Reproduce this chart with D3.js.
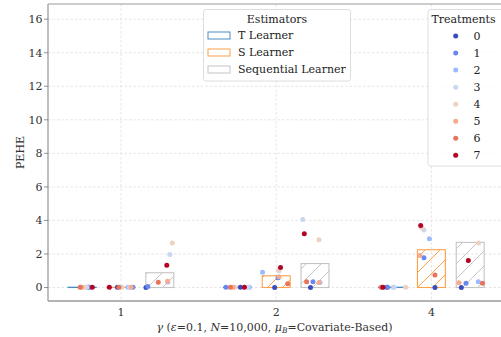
<!DOCTYPE html>
<html>
<head>
<meta charset="utf-8">
<script src="https://cdn.jsdelivr.net/npm/d3@7"></script>
<style>
  body { margin: 0; background: #fff; }
  svg { display: block; font-family: "DejaVu Serif", serif; }
</style>
</head>
<body>
<script>
// chart data
var gammas = ["1", "2", "4"];
var estimators = ["T Learner", "S Learner", "Sequential Learner"];
var treatments = ["0", "1", "2", "3", "4", "5", "6", "7"];
var yTicks = [0, 2, 4, 6, 8, 10, 12, 14, 16];

// PEHE per gamma, per treatment
var tValues = [
    [0.02, 0.01, 0.02, 0.01, 0.02, 0.02, 0.01, 0.02],
    [0.01, 0.02, 0.01, 0.02, 0.01, 0.02, 0.02, 0.01],
    [0.02, 0.01, 0.02, 0.02, 0.01, 0.02, 0.01, 0.02]
];
var sValues = [
    [0.01, 0.02, 0.01, 0.02, 0.02, 0.01, 0.02, 0.02],
    [0.00, 0.58, 0.91, 1.00, 1.04, 0.64, 0.23, 1.19],
    [0.00, 1.78, 2.91, 3.43, 3.55, 1.91, 0.74, 3.69]
];
var seqValues = [
    [0.00, 0.06, 0.33, 1.97, 2.65, 0.38, 0.32, 1.33],
    [0.00, 0.35, 0.30, 4.06, 2.85, 0.30, 0.35, 3.21],
    [0.00, 0.25, 0.35, 16.1, 2.66, 0.28, 0.26, 1.61]
];

// strip jitter (category units)
var tJitter = [
    [0.039, 0.045, 0.032, 0.029, 0.013, -0.003, -0.013, 0.065],
    [0.019, -0.074, 0.077, 0.068, -0.015, -0.028, -0.045, 0.045],
    [-0.036, -0.032, 0.006, 0.010, 0.084, -0.068, -0.074, -0.062]
];
var sJitter = [
    [-0.023, 0.077, 0.045, 0.055, 0.006, 0.065, -0.013, -0.075],
    [-0.010, 0.012, -0.088, 0.018, 0.016, 0.018, 0.074, 0.028],
    [0.023, -0.048, -0.013, -0.048, -0.061, -0.074, 0.023, -0.069]
];
var seqJitter = [
    [-0.089, -0.077, 0.052, 0.065, 0.081, 0.050, -0.010, 0.045],
    [-0.029, -0.013, 0.032, -0.079, 0.026, 0.026, -0.054, -0.069],
    [-0.057, -0.027, 0.052, 0.013, 0.054, -0.072, 0.079, -0.012]
];

var allValues = [tValues, sValues, seqValues];
var allJitter = [tJitter, sJitter, seqJitter];

var estColors = ["#4a8cc2", "#ffa04a", "#c4c4c4"];
var treatColors = ["#3b4cc0", "#6788ee", "#9abbff", "#c9d7f0", "#edd1c2", "#f7aa8c", "#e7745b", "#b40426"];

var W = 501, H = 337;
var mLeft = 48, mTop = 4, mBottom = 301;
var fs = 11;

var svg = d3.select("body").append("svg")
            .attr("width", W)
            .attr("height", H);

var x = d3.scaleLinear().domain([0, 2]).range([121, 431.4]);
var y = d3.scaleLinear().domain([-0.805, 16.905]).range([mBottom, mTop]);
var unit = x(1) - x(0);
var dodge = 0.25, barW = 0.18;

// hatch patterns
var defs = svg.append("defs");
estColors.forEach(function(c, i){
    var p = defs.append("pattern")
                .attr("id", "hatch" + i)
                .attr("patternUnits", "userSpaceOnUse")
                .attr("width", 15)
                .attr("height", 15);
    p.append("path")
     .attr("d", "M0,15 L15,0 M-3,3 L3,-3 M12,18 L18,12")
     .attr("stroke", c)
     .attr("stroke-width", 1);
});

// grid
var grid = svg.append("g").attr("class", "grid");
grid.selectAll("line.h")
    .data(yTicks).enter().append("line")
    .attr("x1", mLeft).attr("x2", W)
    .attr("y1", function(d){ return y(d); })
    .attr("y2", function(d){ return y(d); })
    .attr("stroke", "#dedede").attr("stroke-width", 0.8)
    .attr("stroke-dasharray", "2.5,2");
grid.selectAll("line.v")
    .data(gammas).enter().append("line")
    .attr("x1", function(d, i){ return x(i); })
    .attr("x2", function(d, i){ return x(i); })
    .attr("y1", mTop).attr("y2", mBottom)
    .attr("stroke", "#dedede").attr("stroke-width", 0.8)
    .attr("stroke-dasharray", "2.5,2");

// bars (means)
var bars = svg.append("g").attr("class", "bars");
estimators.forEach(function(est, e){
    gammas.forEach(function(g, gi){
        var m = d3.mean(allValues[e][gi]);
        var cx = x(gi + (e - 1) * dodge);
        bars.append("rect")
            .attr("x", cx - barW * unit / 2)
            .attr("y", y(m))
            .attr("width", barW * unit)
            .attr("height", y(0) - y(m))
            .attr("fill", "url(#hatch" + e + ")")
            .attr("stroke", estColors[e])
            .attr("stroke-width", 1.1);
    });
});

// strip points
var pts = [];
treatments.forEach(function(t, ti){
    estimators.forEach(function(est, e){
        gammas.forEach(function(g, gi){
            pts.push({
                t: ti,
                xv: gi + (e - 1) * dodge + allJitter[e][gi][ti],
                yv: allValues[e][gi][ti]
            });
        });
    });
});
svg.append("g").attr("class", "points")
    .selectAll("circle").data(pts).enter().append("circle")
    .attr("cx", function(d){ return x(d.xv); })
    .attr("cy", function(d){ return y(d.yv); })
    .attr("r", 2.5)
    .attr("fill", function(d){ return treatColors[d.t]; });

// spines
svg.append("line").attr("x1", mLeft).attr("x2", W).attr("y1", mTop).attr("y2", mTop)
   .attr("stroke", "#999").attr("stroke-width", 1);
svg.append("line").attr("x1", mLeft).attr("x2", W).attr("y1", mBottom).attr("y2", mBottom)
   .attr("stroke", "#666").attr("stroke-width", 1);
svg.append("line").attr("x1", mLeft).attr("x2", mLeft).attr("y1", mTop).attr("y2", mBottom)
   .attr("stroke", "#aaa").attr("stroke-width", 1.5);

// y axis ticks
var yAxis = svg.append("g").attr("class", "yaxis");
yAxis.selectAll("line").data(yTicks).enter().append("line")
     .attr("x1", mLeft - 4).attr("x2", mLeft)
     .attr("y1", function(d){ return y(d); })
     .attr("y2", function(d){ return y(d); })
     .attr("stroke", "#777").attr("stroke-width", 0.8);
yAxis.selectAll("text").data(yTicks).enter().append("text")
     .attr("x", mLeft - 5.5)
     .attr("y", function(d){ return y(d); })
     .attr("dy", "0.35em")
     .attr("text-anchor", "end")
     .attr("font-size", fs)
     .attr("fill", "#333")
     .text(function(d){ return d; });

// x tick labels
svg.append("g").selectAll("text").data(gammas).enter().append("text")
   .attr("x", function(d, i){ return x(i); })
   .attr("y", 315.5)
   .attr("text-anchor", "middle")
   .attr("font-size", fs)
   .attr("fill", "#333")
   .text(function(d){ return d; });

// axis labels
svg.append("text")
   .attr("transform", "translate(24," + ((mTop + mBottom) / 2) + ") rotate(-90)")
   .attr("text-anchor", "middle")
   .attr("font-size", fs)
   .attr("fill", "#333")
   .text("PEHE");

var xl = svg.append("text")
            .attr("x", 274.5)
            .attr("y", 331)
            .attr("text-anchor", "middle")
            .attr("font-size", fs)
            .attr("fill", "#333");
xl.append("tspan").attr("font-style", "italic").text("γ");
xl.append("tspan").text(" (");
xl.append("tspan").attr("font-style", "italic").text("ε");
xl.append("tspan").text("=0.1, ");
xl.append("tspan").attr("font-style", "italic").text("N");
xl.append("tspan").text("=10,000, ");
xl.append("tspan").attr("font-style", "italic").text("μ");
xl.append("tspan").attr("font-style", "italic").attr("font-size", 7.5).attr("dy", 2).text("B");
xl.append("tspan").attr("dy", -2).text("=Covariate-Based)");

// estimators legend
var leg1 = svg.append("g").attr("class", "legendEst");
leg1.append("rect")
    .attr("x", 203.5).attr("y", 9.5).attr("width", 147).attr("height", 71.5)
    .attr("rx", 2.5)
    .attr("fill", "#fff").attr("fill-opacity", 0.8)
    .attr("stroke", "#d6d6d6").attr("stroke-width", 0.8);
leg1.append("text")
    .attr("x", 277).attr("y", 19).attr("dy", "0.35em")
    .attr("text-anchor", "middle").attr("font-size", fs).attr("fill", "#222")
    .text("Estimators");
estimators.forEach(function(est, e){
    var cy = 35.5 + e * 17;
    leg1.append("rect")
        .attr("x", 208).attr("y", cy - 3.5).attr("width", 22).attr("height", 7)
        .attr("fill", "none")
        .attr("stroke", estColors[e]).attr("stroke-width", 1);
    leg1.append("text")
        .attr("x", 238).attr("y", cy).attr("dy", "0.35em")
        .attr("font-size", fs).attr("fill", "#222")
        .text(est);
});

// treatments legend
var leg2 = svg.append("g").attr("class", "legendTreat");
leg2.append("rect")
    .attr("x", 428).attr("y", 9.5).attr("width", 80).attr("height", 156.5)
    .attr("rx", 2.5)
    .attr("fill", "#fff").attr("fill-opacity", 0.8)
    .attr("stroke", "#d6d6d6").attr("stroke-width", 0.8);
leg2.append("text")
    .attr("x", 463.5).attr("y", 19).attr("dy", "0.35em")
    .attr("text-anchor", "middle").attr("font-size", fs).attr("fill", "#222")
    .text("Treatments");
treatments.forEach(function(t, ti){
    var cy = 36 + ti * 17.05;
    leg2.append("circle")
        .attr("cx", 455.7).attr("cy", cy).attr("r", 2.5)
        .attr("fill", treatColors[ti]);
    leg2.append("text")
        .attr("x", 477).attr("y", cy).attr("dy", "0.35em")
        .attr("text-anchor", "middle")
        .attr("font-size", fs).attr("fill", "#222")
        .text(t);
});
</script>
</body>
</html>
